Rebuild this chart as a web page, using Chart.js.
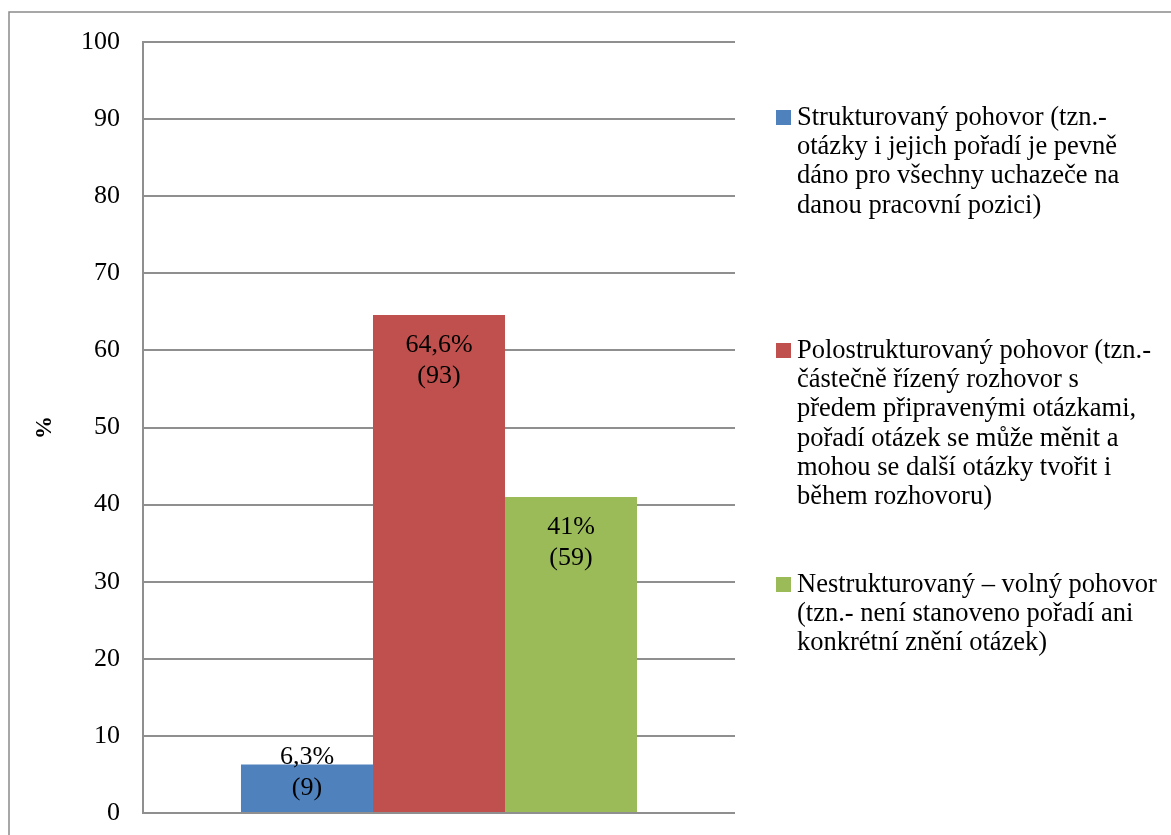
<!DOCTYPE html>
<html>
<head>
<meta charset="utf-8">
<script src="https://cdn.jsdelivr.net/npm/chart.js@4"></script>
<style>
  html, body { margin: 0; padding: 0; background: #fff; overflow: hidden; }
  #wrap { width: 1171px; height: 835px; position: relative; }
  canvas { display: block; }
</style>
</head>
<body>
<div id="wrap"><canvas id="chart" width="1171" height="835"></canvas></div>
<script>
// values
const categories = [""];
const seriesNames = [
  ["Strukturovaný pohovor (tzn.-", "otázky i jejich pořadí je pevně", "dáno pro všechny uchazeče na", "danou pracovní pozici)"],
  ["Polostrukturovaný pohovor (tzn.-", "částečně řízený rozhovor s", "předem připravenými otázkami,", "pořadí otázek se může měnit a", "mohou se další otázky tvořit i", "během rozhovoru)"],
  ["Nestrukturovaný – volný pohovor", "(tzn.- není stanoveno pořadí ani", "konkrétní znění otázek)"]
];
const percentValues = [6.3, 64.6, 41];
const counts = [9, 93, 59];
const seriesColors = ["#4F81BD", "#C0504D", "#9BBB59"];
const yTicks = [0, 10, 20, 30, 40, 50, 60, 70, 80, 90, 100];

const FONT = "'Liberation Serif', 'Times New Roman', serif";
const gridColor = "#8f8f8f";

function fmtPct(v) {
  return String(v).replace(".", ",") + "%";
}

// grey frame around the whole chart (cut off at the right and bottom)
const framePlugin = {
  id: "frame",
  beforeDraw(chart) {
    const ctx = chart.ctx;
    ctx.save();
    ctx.strokeStyle = "#8a8a8a";
    ctx.lineWidth = 1.5;
    ctx.strokeRect(9, 12, 3000, 3000);
    ctx.restore();
  }
};

// labels inside the bar tops: "64,6%" / "(93)"
const barLabels = {
  id: "barLabels",
  afterDatasetsDraw(chart) {
    const ctx = chart.ctx;
    ctx.save();
    ctx.font = "26px " + FONT;
    ctx.fillStyle = "#000";
    ctx.textAlign = "center";
    ctx.textBaseline = "middle";
    chart.data.datasets.forEach((ds, i) => {
      const bar = chart.getDatasetMeta(i).data[0];
      const y1 = Math.min(bar.y + 30, bar.base - 55);
      ctx.fillText(fmtPct(percentValues[i]), bar.x, y1);
      ctx.fillText("(" + counts[i] + ")", bar.x, y1 + 31);
    });
    ctx.restore();
  }
};

// legend on the right with wrapped entries
const sideLegend = {
  id: "sideLegend",
  afterDraw(chart) {
    const ctx = chart.ctx;
    const firstLineY = [118, 351, 585];
    const lineH = 29.2;
    ctx.save();
    ctx.font = "26.5px " + FONT;
    ctx.textBaseline = "middle";
    ctx.textAlign = "left";
    chart.data.datasets.forEach((ds, i) => {
      const y = firstLineY[i];
      ctx.fillStyle = ds.backgroundColor;
      ctx.fillRect(776, y - 8, 15, 15);
      ctx.fillStyle = "#000";
      ds.label.forEach((line, k) => {
        ctx.fillText(line, 797, y + k * lineH);
      });
    });
    ctx.restore();
  }
};

new Chart(document.getElementById("chart"), {
  type: "bar",
  data: {
    labels: categories,
    datasets: seriesNames.map((name, i) => ({
      label: name,
      data: [percentValues[i]],
      backgroundColor: seriesColors[i],
      borderWidth: 0
    }))
  },
  options: {
    responsive: false,
    animation: false,
    events: [],
    layout: {
      padding: { left: 27, top: 42, right: 436, bottom: 22 }
    },
    datasets: {
      bar: { categoryPercentage: 0.669, barPercentage: 1 }
    },
    scales: {
      x: {
        display: false
      },
      y: {
        min: 0,
        max: 100,
        afterBuildTicks(scale) {
          scale.ticks = yTicks.map(v => ({ value: v }));
        },
        afterFit(scale) {
          scale.width = 116;
          scale.paddingTop = 0;
          scale.paddingBottom = 0;
        },
        ticks: {
          padding: 23,
          color: "#000",
          font: { family: FONT, size: 26 }
        },
        grid: {
          color: gridColor,
          lineWidth: 2,
          drawTicks: false
        },
        border: { display: true, color: gridColor, width: 2 },
        title: {
          display: true,
          text: "%",
          color: "#000",
          font: { family: FONT, size: 23, weight: "bold" }
        }
      }
    },
    plugins: {
      legend: { display: false },
      tooltip: { enabled: false }
    }
  },
  plugins: [framePlugin, barLabels, sideLegend]
});
</script>
</body>
</html>
